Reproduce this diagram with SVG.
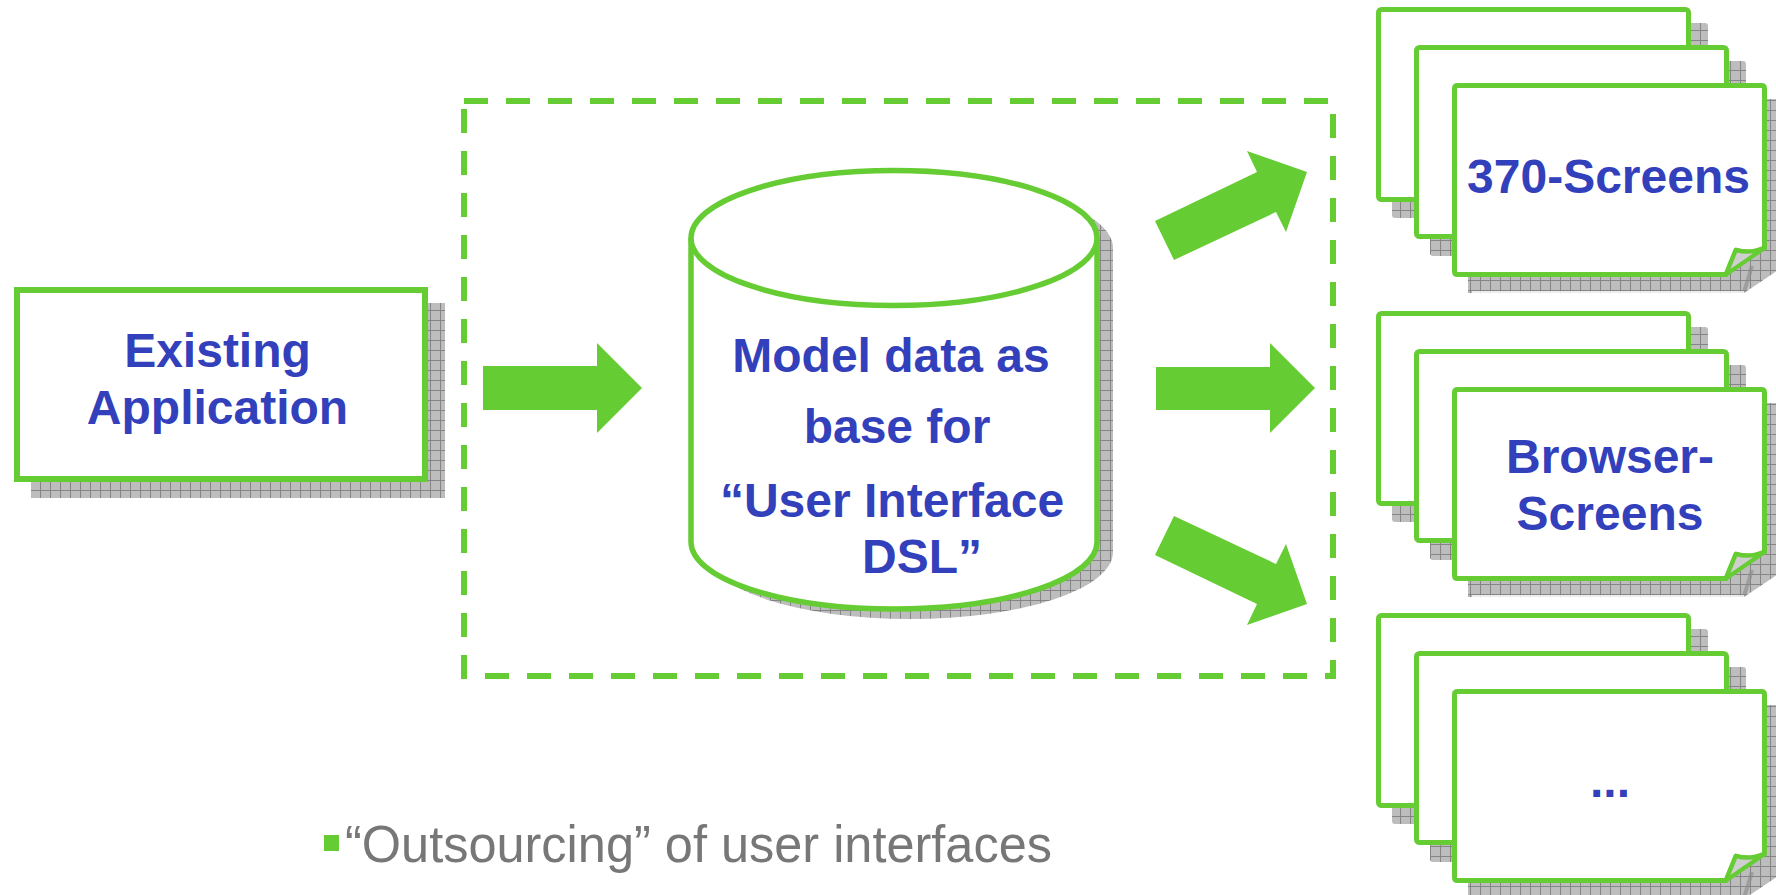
<svg xmlns="http://www.w3.org/2000/svg" width="1776" height="895" viewBox="0 0 1776 895">
<defs>
<pattern id="grid" width="10" height="10" patternUnits="userSpaceOnUse">
<rect width="10" height="10" fill="#bdbdbd"/>
<path d="M0 0.5H10M0.5 0V10" stroke="#858585" stroke-width="1"/>
</pattern>
<style>
.g{fill:#fff;stroke:#66cc33;stroke-width:5;stroke-linejoin:round}
.sh{fill:url(#grid)}
.arrow{fill:#66cc33}
.t{font-family:"Liberation Sans",Arial,Helvetica,sans-serif;font-weight:bold;font-size:48px;fill:#3340bb;text-anchor:middle}
.flap{fill:#cfcfcf;stroke:#66cc33;stroke-width:4;stroke-linejoin:round}
</style>
<g id="stack">
<rect class="sh" x="1392" y="23" width="316" height="195" rx="3"/>
<rect class="g" x="1378.5" y="9.5" width="310" height="190" rx="3"/>
<rect class="sh" x="1430" y="61" width="316" height="195" rx="3"/>
<rect class="g" x="1416.5" y="47.5" width="310" height="189" rx="3"/>
<path class="sh" d="M1468 99H1784V266L1744 293H1468Z"/>
<path d="M1744 292L1752 266" stroke="#8a8a8a" stroke-width="4" opacity="0.6"/>
<path d="M1472 292H1744" stroke="#fff" stroke-width="1.5"/>
<path class="g" d="M1457.5 85.5H1761.5Q1764.5 85.5 1764.5 88.5V248C1755 252 1745 253 1736 250L1726 274.5H1457.5Q1454.5 274.5 1454.5 271.5V88.5Q1454.5 85.5 1457.5 85.5Z"/>
<path class="flap" d="M1736 250C1745 253 1755 252 1764.5 248L1726 274.5Z"/>
</g>
</defs>

<g id="boundary">
<rect x="464" y="101" width="869" height="575" fill="none" stroke="#66cc33" stroke-width="6" stroke-dasharray="24 18"/>
</g>

<g id="existing-application">
<rect class="sh" x="31" y="303" width="414" height="195"/>
<rect x="17" y="290" width="408" height="189" fill="#fff" stroke="#66cc33" stroke-width="6"/>
<text class="t" x="217.5" y="367">Existing</text>
<text class="t" x="217.5" y="424">Application</text>
</g>

<g id="model-data">
<path class="sh" d="M707 248V552A203 67 0 0 0 1113 552V248A203 67 0 0 0 707 248Z"/>
<path d="M691 238V542A203 67 0 0 0 1097 542V238" fill="#fff" stroke="#66cc33" stroke-width="5.5"/>
<ellipse cx="894" cy="238" rx="203" ry="67.5" fill="#fff" stroke="#66cc33" stroke-width="5.5"/>
<text class="t" x="891" y="372">Model data as</text>
<text class="t" x="897" y="443">base for</text>
<text class="t" x="892" y="517">“User Interface</text>
<text class="t" x="862" y="573" style="text-anchor:start">DSL”</text>
</g>

<g id="screens-370">
<use href="#stack"/>
<text class="t" x="1608.5" y="193">370-Screens</text>
</g>

<g id="browser-screens">
<use href="#stack" transform="translate(0,304)"/>
<text class="t" x="1610" y="473">Browser-</text>
<text class="t" x="1610" y="530">Screens</text>
</g>

<g id="other-screens">
<use href="#stack" transform="translate(0,606)"/>
<text class="t" x="1610" y="797">...</text>
</g>

<g id="connectors">
<polygon class="arrow" points="483,366 597,366 597,343 642,388 597,433 597,410 483,410"/>
<polygon class="arrow" points="1156,367 1270,367 1270,343 1315,388 1270,433 1270,410 1156,410"/>
<polygon class="arrow" points="1155,221 1257,172 1247,151 1307,172 1286,232 1276,212 1174,260"/>
<polygon class="arrow" points="1174,516 1276,564 1286,544 1307,604 1247,625 1257,604 1155,555"/>
</g>

<g id="caption">
<rect x="324" y="835" width="15" height="16" fill="#66cc33"/>
<text x="345" y="862" font-family="'Liberation Sans',Arial,Helvetica,sans-serif" font-size="52" fill="#777777" textLength="707" lengthAdjust="spacingAndGlyphs">“Outsourcing” of user interfaces</text>
</g>
</svg>
